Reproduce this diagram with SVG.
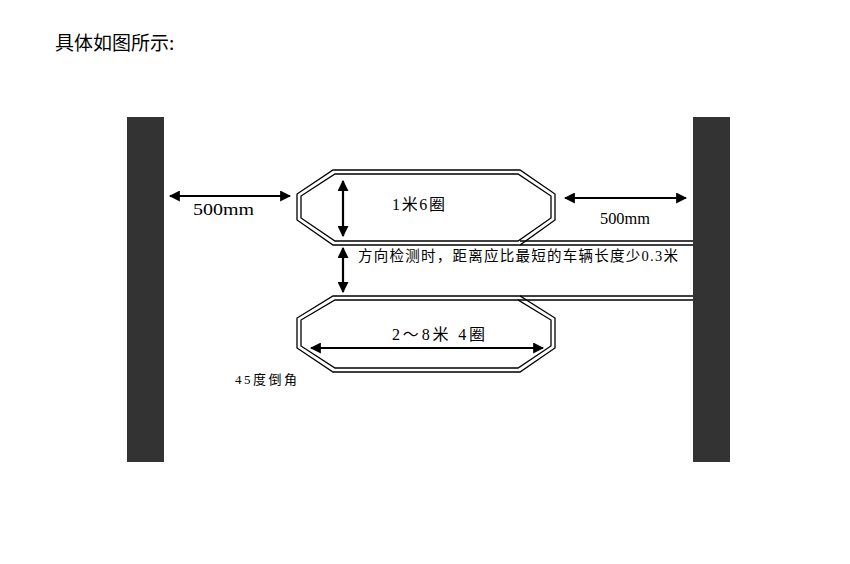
<svg xmlns="http://www.w3.org/2000/svg" width="850" height="564" viewBox="0 0 850 564">
<style>
.ln{fill:none;stroke:#000;stroke-width:1.3}
.ar{stroke:#000;stroke-width:2.2;fill:none;marker-start:url(#a);marker-end:url(#a)}
.t{font-family:"Liberation Serif","Noto Sans CJK SC",serif;font-size:16px;fill:#000}
</style>
<defs><marker id="a" viewBox="0 0 10 10" refX="9" refY="5" markerWidth="5" markerHeight="5" orient="auto-start-reverse"><path d="M0,0L10,5L0,10z" fill="#000"/></marker></defs>
<rect width="850" height="564" fill="#fff"/>
<text x="55" y="50" style="font-family:'Noto Sans CJK SC',sans-serif;font-size:19px">具体如图所示:</text>
<g id="walls" fill="#333"><rect x="127" y="117" width="37" height="345"/><rect x="693" y="117" width="37" height="345"/></g>
<g id="loop1" class="ln">
<polygon points="333,170 520,170 555,194 555,220 520,245 333,245 297,220 297,194"/>
<polygon points="335,174 518,174 551,196 551,218 518,241 335,241 301,218 301,196"/>
</g>
<g id="loop2" class="ln">
<polygon points="333,296 520,296 555,318 555,348 520,372 333,372 297,348 297,318"/>
<polygon points="335,300 518,300 551,320 551,346 518,368 335,368 301,346 301,320"/>
</g>
<g id="connectors">
<path class="ln" d="M520,241H693M520,245H693M520,296H693M518,300H693"/>
<path class="ar" d="M170,196H290"/>
<path class="ar" d="M565,198H686"/>
<path class="ar" d="M343,181V236"/>
<path class="ar" d="M343,248V292"/>
<path class="ar" d="M311,348H543"/>
</g>
<g id="labels">
<text class="t" x="193" y="215" textLength="61" lengthAdjust="spacingAndGlyphs">500mm</text>
<text class="t" x="600" y="224" textLength="50" lengthAdjust="spacingAndGlyphs">500mm</text>
<text class="t" x="392" y="210" textLength="53" lengthAdjust="spacing">1米6圈</text>
<text class="t" x="358" y="261" style="font-size:14.5px" textLength="320" lengthAdjust="spacing">方向检测时，距离应比最短的车辆长度少0.3米</text>
<text class="t" x="392" y="340" textLength="93" lengthAdjust="spacing">2～8米 4圈</text>
<text class="t" x="235" y="384" style="font-size:13px" textLength="62" lengthAdjust="spacing">45度倒角</text>
</g>
</svg>
